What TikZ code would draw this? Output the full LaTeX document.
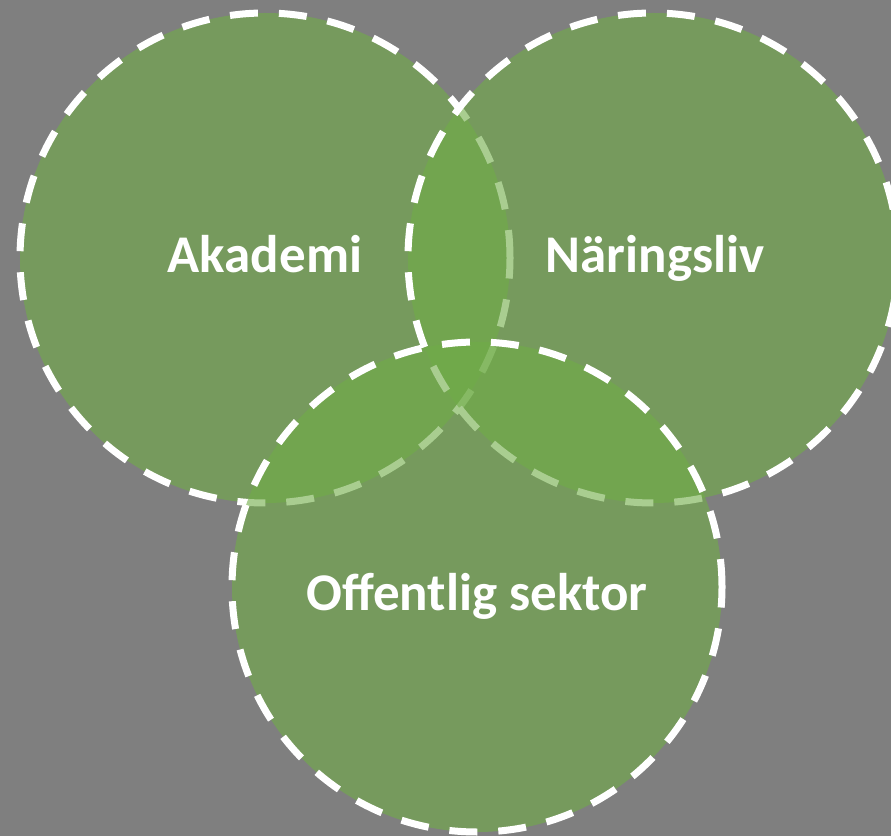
\documentclass[tikz,border=0pt]{standalone}
\usepackage{fontspec}
\setmainfont{Carlito}
\definecolor{bggray}{RGB}{127,127,127}
\definecolor{venngreen}{RGB}{112,173,71}
\begin{document}
\begin{tikzpicture}
  [x=1pt,y=1pt,
   venn/.style={circle,minimum size=490pt,inner sep=0pt,fill=venngreen,fill opacity=.6,
     draw=white,draw opacity=1,line width=7pt,dash pattern=on 28pt off 21pt},
   lbl/.style={anchor=base,text=white,font=\fontsize{53}{62}\selectfont\bfseries}]
  \useasboundingbox (0,0) rectangle (891,836);
  \fill[bggray] (0,0) rectangle (891,836);
  \node[venn] (akademi) at (265,578) {};
  \node[venn] (naringsliv) at (653,578) {};
  \node[venn] (offentlig) at (477,249) {};
  \node[lbl] (akademitxt) at ([yshift=-15pt]akademi.center) {Akademi};
  \node[lbl] (naringslivtxt) at ([xshift=2pt,yshift=-15pt]naringsliv.center) {Näringsliv};
  \node[lbl] (offentligtxt) at ([yshift=-23pt]offentlig.center) {Offentlig sektor};
\end{tikzpicture}
\end{document}
